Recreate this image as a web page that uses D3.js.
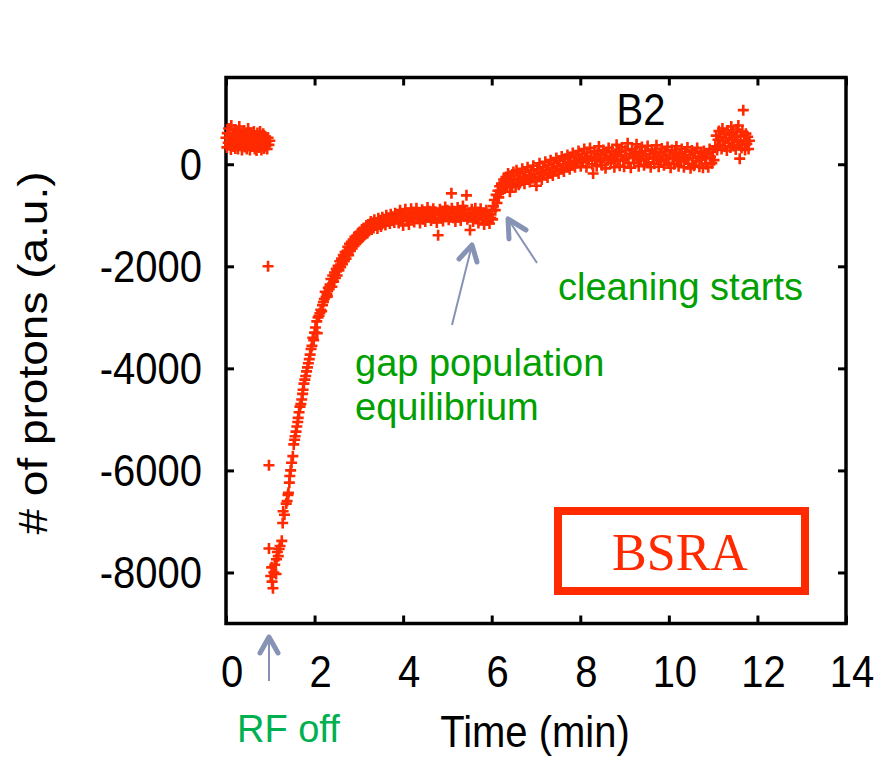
<!DOCTYPE html>
<html lang="en">
<head>
<meta charset="utf-8">
<title>B2 protons vs time</title>
<script src="https://d3js.org/d3.v7.min.js"></script>
<style>
  body { margin: 0; background: #fff; }
  text { font-family: "Liberation Sans", Arial, sans-serif; }
</style>
</head>
<body>
<script>
// data: [time (min), # of protons (a.u.)]
var beforeRfOff = [[0.00,520],[0.02,330],[0.03,610],[0.05,420],[0.06,700],[0.08,380],[0.09,540],[0.11,290],[0.12,760],[0.14,450],[0.15,600],[0.17,350],[0.18,480],[0.20,680],[0.21,310],[0.23,560],[0.24,420],[0.26,640],[0.27,300],[0.29,520],[0.30,740],[0.32,390],[0.33,470],[0.35,610],[0.36,280],[0.38,550],[0.39,430],[0.41,660],[0.42,340],[0.44,500],[0.45,590],[0.47,300],[0.48,450],[0.50,700],[0.51,380],[0.53,520],[0.54,280],[0.56,610],[0.57,460],[0.59,350],[0.60,570],[0.62,430],[0.63,640],[0.65,300],[0.66,490],[0.68,560],[0.69,270],[0.71,610],[0.72,400],[0.74,520],[0.75,330],[0.77,640],[0.78,450],[0.80,280],[0.81,560],[0.83,390],[0.84,600],[0.86,310],[0.87,470],[0.89,540],[0.90,360],[0.92,450],[0.93,300],[0.95,520],[0.97,380],[0.99,460]];
var strays = [[0.95,-2000],[0.97,-5900],[0.97,-7530]];
var decay = [[1.01,-8070],[1.03,-7900],[1.04,-8180],[1.06,-8310],[1.08,-8000],[1.10,-7850],[1.13,-8030],[1.14,-7740],[1.16,-7600],[1.18,-7680],[1.20,-7540],[1.22,-7480],[1.26,-7380],[1.28,-7030],[1.29,-6800],[1.32,-6870],[1.36,-6650],[1.38,-6600],[1.40,-6480],[1.41,-6440],[1.43,-6240],[1.44,-6110],[1.46,-6000],[1.48,-5850],[1.51,-5720],[1.53,-5490],[1.55,-5400],[1.56,-5330],[1.58,-5240],[1.60,-5140],[1.62,-5050],[1.63,-4970],[1.65,-4860],[1.67,-4750],[1.69,-4700],[1.71,-4610],[1.73,-4500],[1.74,-4420],[1.76,-4300],[1.78,-4220],[1.80,-4150],[1.82,-4060],[1.84,-3980],[1.86,-3900],[1.88,-3820],[1.90,-3730],[1.92,-3620],[1.94,-3560],[1.96,-3400],[1.98,-3450],[2.00,-3300],[2.02,-3200],[2.05,-3080],[2.06,-3310],[2.08,-3000],[2.10,-2970],[2.12,-2920],[2.14,-2850],[2.16,-2880],[2.18,-2760],[2.20,-2700],[2.22,-2640],[2.24,-2500],[2.26,-2600],[2.28,-2540],[2.29,-2590],[2.31,-2420],[2.33,-2450],[2.35,-2360]];
var recovery = [[2.37,-2250],[2.39,-2400],[2.41,-2180],[2.43,-2300],[2.45,-2120],[2.47,-2230],[2.49,-2050],[2.51,-2180],[2.53,-1990],[2.55,-2080],[2.57,-1900],[2.59,-2020],[2.61,-1850],[2.63,-1960],[2.65,-1780],[2.67,-1900],[2.69,-1720],[2.71,-1850],[2.73,-1700],[2.75,-1620],[2.77,-1780],[2.79,-1560],[2.81,-1700],[2.83,-1520],[2.85,-1650],[2.87,-1480],[2.89,-1600],[2.91,-1420],[2.93,-1560],[2.95,-1400],[2.97,-1520],[2.99,-1350],[3.01,-1480],[3.03,-1330],[3.05,-1450],[3.07,-1280],[3.09,-1420],[3.11,-1250],[3.13,-1380],[3.15,-1300],[3.17,-1200],[3.19,-1350],[3.21,-1180],[3.23,-1310],[3.25,-1220],[3.27,-1120],[3.29,-1280],[3.31,-1150],[3.33,-1250],[3.35,-1090],[3.37,-1200],[3.40,-1140],[3.42,-1260],[3.44,-1060],[3.46,-1180],[3.48,-1100],[3.50,-1220],[3.53,-1040],[3.55,-1150],[3.57,-1080],[3.60,-1190],[3.62,-1000],[3.65,-1120],[3.67,-1050],[3.70,-1160],[3.72,-980],[3.75,-1100],[3.77,-1030],[3.80,-1140],[3.82,-960],[3.85,-1080]];
var equilibrium = [[3.88,-1010],[3.90,-1150],[3.93,-900],[3.95,-1080],[3.98,-980],[4.00,-1200],[4.03,-1020],[4.05,-880],[4.08,-1100],[4.10,-960],[4.13,-1180],[4.15,-1000],[4.18,-870],[4.20,-1060],[4.23,-940],[4.25,-1130],[4.28,-990],[4.30,-860],[4.33,-1070],[4.35,-950],[4.38,-1150],[4.40,-1000],[4.43,-890],[4.45,-1080],[4.48,-940],[4.50,-1120],[4.53,-980],[4.55,-850],[4.58,-1040],[4.60,-920],[4.63,-1100],[4.65,-970],[4.68,-870],[4.70,-1060],[4.73,-930],[4.76,-1140],[4.79,-1390],[4.80,-990],[4.83,-880],[4.85,-1050],[4.88,-920],[4.90,-1110],[4.93,-960],[4.95,-840],[4.98,-1030],[5.00,-900],[5.03,-1090],[5.06,-960],[5.09,-570],[5.10,-860],[5.13,-1050],[5.15,-920],[5.18,-1120],[5.20,-980],[5.23,-850],[5.25,-1040],[5.28,-910],[5.30,-1100],[5.33,-960],[5.35,-820],[5.38,-1020],[5.40,-900],[5.43,-610],[5.45,-1080],[5.48,-950],[5.51,-1290],[5.53,-1030],[5.55,-880],[5.58,-1120],[5.60,-990],[5.63,-860],[5.65,-1070],[5.68,-940],[5.70,-1150],[5.73,-1000],[5.75,-870],[5.78,-1090],[5.80,-960],[5.83,-1180],[5.85,-1020],[5.88,-900],[5.90,-1100],[5.93,-980],[5.95,-1160],[5.98,-1050],[6.00,-920],[6.02,-1080]];
var cleaning = [[6.04,-820],[6.06,-700],[6.08,-900],[6.10,-600],[6.12,-760],[6.14,-520],[6.16,-650],[6.18,-430],[6.20,-560],[6.22,-380],[6.25,-500],[6.27,-300],[6.30,-450],[6.32,-250],[6.34,-380],[6.37,-180],[6.39,-330],[6.41,-540],[6.44,-230],[6.46,-420],[6.49,-150],[6.51,-300],[6.54,-450],[6.56,-120],[6.59,-280],[6.61,-400],[6.64,-180],[6.66,-330],[6.69,-90],[6.71,-250],[6.74,-380],[6.76,-150],[6.79,-300],[6.81,-60],[6.84,-220],[6.86,-350],[6.89,-120],[6.91,-270],[6.94,-30],[6.96,-190],[6.99,-320],[7.01,-420],[7.03,-100],[7.06,-250],[7.08,20],[7.11,-160],[7.13,-300],[7.16,-60],[7.18,-200],[7.21,50],[7.23,-120],[7.26,-260],[7.28,-20],[7.31,-170],[7.33,80],[7.36,-80],[7.38,-220],[7.41,30],[7.43,-130],[7.46,120],[7.48,-40],[7.51,-180],[7.53,70],[7.56,-90],[7.58,150],[7.61,0],[7.63,-140],[7.66,110],[7.68,-50],[7.71,180],[7.73,30],[7.76,-100],[7.78,140],[7.81,-20],[7.83,220],[7.86,70],[7.88,-60],[7.91,170],[7.93,20],[7.96,260],[7.98,110]];
var cleaned = [[8.01,-40],[8.04,200],[8.06,60],[8.09,300],[8.11,120],[8.14,-60],[8.16,230],[8.19,80],[8.22,320],[8.24,150],[8.27,0],[8.29,-180],[8.32,260],[8.34,100],[8.37,-40],[8.39,210],[8.42,350],[8.44,60],[8.47,180],[8.49,-20],[8.52,280],[8.54,120],[8.57,-80],[8.59,230],[8.62,80],[8.64,320],[8.67,160],[8.69,20],[8.72,260],[8.74,110],[8.77,-60],[8.79,200],[8.82,380],[8.84,70],[8.87,240],[8.89,-30],[8.92,180],[8.94,330],[8.97,90],[8.99,-50],[9.02,270],[9.04,130],[9.07,410],[9.09,20],[9.12,200],[9.14,-70],[9.17,300],[9.19,150],[9.22,30],[9.24,250],[9.27,390],[9.29,100],[9.32,-40],[9.34,220],[9.37,80],[9.39,340],[9.42,170],[9.44,-20],[9.47,260],[9.49,110],[9.52,360],[9.54,40],[9.57,200],[9.59,-60],[9.62,290],[9.64,140],[9.67,10],[9.69,240],[9.72,370],[9.74,90],[9.77,-50],[9.79,210],[9.82,60],[9.84,310],[9.87,160],[9.89,-20],[9.92,250],[9.94,100],[9.97,340],[9.99,30],[10.02,190],[10.04,-70],[10.07,280],[10.09,130],[10.12,0],[10.14,230],[10.17,350],[10.19,80],[10.22,-40],[10.24,200],[10.27,60],[10.29,300],[10.32,150],[10.34,-60],[10.37,240],[10.39,100],[10.42,330],[10.44,10],[10.47,180],[10.49,-80],[10.52,270],[10.54,120],[10.57,-30],[10.59,220],[10.62,60],[10.64,320],[10.67,150],[10.69,-50],[10.72,230],[10.74,90],[10.77,-70],[10.79,260],[10.82,120],[10.84,0],[10.87,200],[10.89,-60],[10.92,300],[10.94,140],[10.97,20],[10.99,240],[11.02,80]];
var lastPoints = [[11.05,350],[11.07,560],[11.09,280],[11.11,480],[11.13,650],[11.15,380],[11.17,540],[11.19,300],[11.21,700],[11.23,450],[11.25,600],[11.27,350],[11.29,520],[11.31,270],[11.33,660],[11.35,420],[11.37,580],[11.39,330],[11.41,740],[11.43,480],[11.45,620],[11.47,360],[11.49,540],[11.51,290],[11.53,680],[11.55,440],[11.57,760],[11.59,380],[11.60,110],[11.62,560],[11.64,320],[11.66,640],[11.68,1060],[11.70,470],[11.72,280],[11.74,600],[11.76,400],[11.78,540],[11.80,300],[11.82,460]];

var xTicks = [0, 2, 4, 6, 8, 10, 12, 14];
var yTicks = [0, -2000, -4000, -6000, -8000];

var w = 876, h = 758;
var red = "#ff2a00";
var arrowCol = "#8793b5";

var x = d3.scaleLinear().domain([0, 14]).range([226, 846]);
var y = d3.scaleLinear().domain([-9000, 1700]).range([623.5, 77.5]);

var svg = d3.select("body").append("svg")
    .attr("width", w)
    .attr("height", h);

// ticks on all four sides, pointing inward
var tickStyle = function(g) {
    g.select(".domain").remove();
    g.selectAll(".tick line").attr("stroke", "#000").attr("stroke-width", 3);
    g.selectAll(".tick text").remove();
};
svg.append("g").attr("transform", "translate(0,623.5)")
    .call(d3.axisBottom(x).tickValues(xTicks).tickSize(-8)).call(tickStyle);
svg.append("g").attr("transform", "translate(0,77.5)")
    .call(d3.axisTop(x).tickValues(xTicks).tickSize(-8)).call(tickStyle);
svg.append("g").attr("transform", "translate(226,0)")
    .call(d3.axisLeft(y).tickValues(yTicks).tickSize(-8)).call(tickStyle);
svg.append("g").attr("transform", "translate(846,0)")
    .call(d3.axisRight(y).tickValues(yTicks).tickSize(-8)).call(tickStyle);

svg.append("rect")
    .attr("x", x(0)).attr("y", y(1700))
    .attr("width", x(14) - x(0)).attr("height", y(-9000) - y(1700))
    .attr("fill", "none").attr("stroke", "#000").attr("stroke-width", 3.5);

// tick labels (the original figure is a bit stretched vertically)
svg.selectAll(".xlab").data(xTicks).enter().append("text")
    .attr("transform", function(d) { return "translate(" + (x(d) + 6) + ",687) scale(1,1.13)"; })
    .attr("text-anchor", "middle")
    .attr("font-size", 40)
    .text(function(d) { return d; });

svg.selectAll(".ylab").data(yTicks).enter().append("text")
    .attr("transform", function(d) { return "translate(202," + (y(d) + 16) + ") scale(1,1.13)"; })
    .attr("text-anchor", "end")
    .attr("font-size", 40)
    .text(function(d) { return d; });

svg.append("text")
    .attr("transform", "translate(535,747) scale(1,1.13)")
    .attr("text-anchor", "middle").attr("font-size", 40)
    .text("Time (min)");

svg.append("text")
    .attr("transform", "translate(47,353) rotate(-90) scale(1.15,1)")
    .attr("text-anchor", "middle").attr("font-size", 40)
    .text("# of protons (a.u.)");

svg.append("text")
    .attr("transform", "translate(641,125) scale(1,1.13)")
    .attr("text-anchor", "middle").attr("font-size", 40)
    .text("B2");

// data points as "+" markers
var points = [].concat(beforeRfOff, strays, decay, recovery, equilibrium, cleaning, cleaned, lastPoints);
svg.append("g").selectAll("path")
    .data(points)
    .enter()
    .append("path")
    .attr("d", "M-5.5,0H5.5M0,-5.5V5.5")
    .attr("transform", function(d) { return "translate(" + x(d[0]) + "," + y(d[1]) + ")"; })
    .attr("stroke", red)
    .attr("stroke-width", 2.6)
    .attr("fill", "none");

// BSRA box
svg.append("rect")
    .attr("x", 558).attr("y", 511).attr("width", 247).attr("height", 80)
    .attr("fill", "none").attr("stroke", red).attr("stroke-width", 8);
svg.append("text")
    .attr("x", 680).attr("y", 570)
    .attr("text-anchor", "middle")
    .attr("font-size", 52)
    .style("font-family", '"Liberation Serif", "DejaVu Serif", serif')
    .attr("fill", red)
    .text("BSRA");

// annotations
var green = "#00a000";
svg.append("text").attr("x", 355).attr("y", 376).attr("font-size", 38).attr("fill", green).text("gap population");
svg.append("text").attr("x", 355).attr("y", 420).attr("font-size", 38).attr("fill", green).text("equilibrium");
svg.append("text").attr("x", 558).attr("y", 300).attr("font-size", 38).attr("fill", green).text("cleaning starts");
svg.append("text").attr("x", 237).attr("y", 742).attr("font-size", 38).attr("fill", "#00b050").text("RF off");

// arrows
function arrow(tail, tip, armA, armB) {
    svg.append("line")
        .attr("x1", tail[0]).attr("y1", tail[1]).attr("x2", tip[0]).attr("y2", tip[1])
        .attr("stroke", arrowCol).attr("stroke-width", 2);
    svg.append("polyline")
        .attr("points", [armA, tip, armB].map(function(p) { return p.join(","); }).join(" "))
        .attr("fill", "none").attr("stroke", arrowCol).attr("stroke-width", 5)
        .attr("stroke-linecap", "round").attr("stroke-linejoin", "round");
}
arrow([269, 681], [269, 637], [260, 653], [278, 653]);
arrow([452, 325], [472, 245], [459, 259], [477, 262]);
arrow([537, 263], [508, 219], [526, 230], [509, 239]);
</script>
</body>
</html>
